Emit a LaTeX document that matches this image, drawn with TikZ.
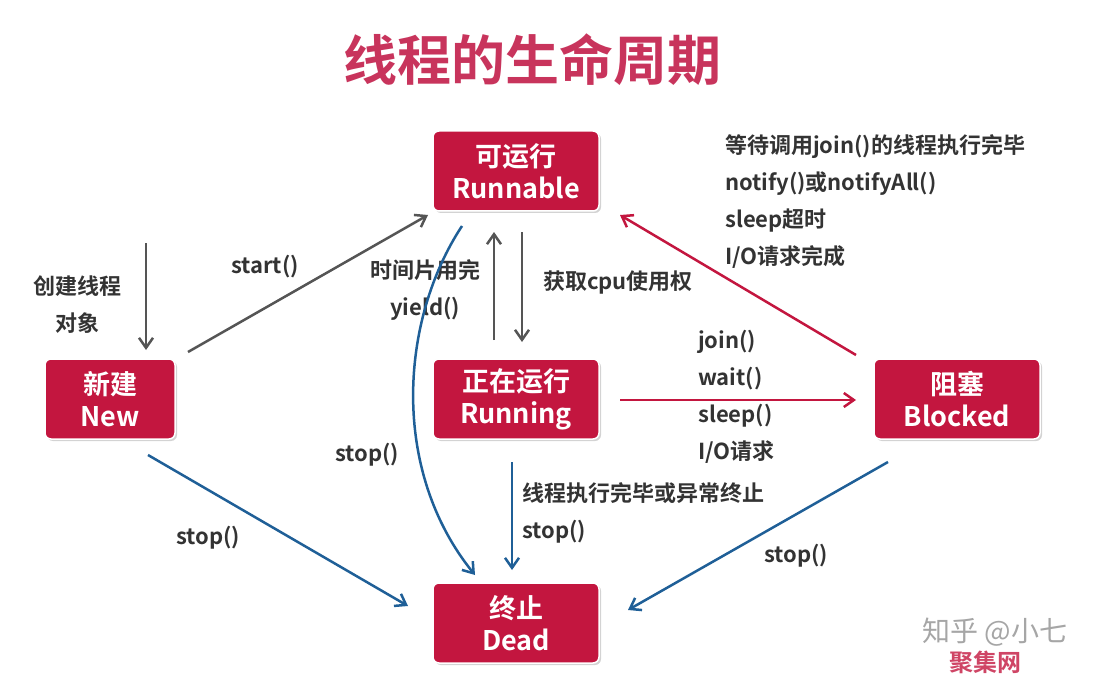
\documentclass[tikz,border=0pt]{standalone}
\usepackage{fontspec}
\setmainfont{Noto Sans CJK SC}[BoldFont={Noto Sans CJK SC Bold}]
\usetikzlibrary{arrows.meta,shadows}
\definecolor{rd}{HTML}{C3163F}
\definecolor{tt}{HTML}{C8345C}
\definecolor{bl}{HTML}{1F5F97}
\definecolor{gr}{HTML}{555555}
\definecolor{tx}{HTML}{333333}
\begin{document}
\begin{tikzpicture}[x=1pt,y=-1pt,
 box/.style={draw=white,line width=1.5pt,fill=rd,rounded corners=6pt,minimum width=166,minimum height=80,text=white,font=\fontsize{27}{32}\selectfont\bfseries,align=center,drop shadow={shadow xshift=2pt,shadow yshift=-2pt,opacity=0.35}},
 lbl/.style={text=tx,font=\fontsize{22}{37}\selectfont\bfseries,align=left,inner sep=0},
 ga/.style={draw=gr,line width=2.5pt,-{Straight Barb[length=10pt,width=14pt]}},
 ra/.style={ga,draw=rd},
 ba/.style={ga,draw=bl}]
\useasboundingbox (0,0) rectangle (1112,682);
\node[text=tt,font=\fontsize{54}{58}\selectfont\bfseries] (title) at (532,60) {线程的生命周期};
\node[box] (rn) at (516,171) {可运行\\Runnable};
\node[box,minimum width=130] (new) at (110,399) {新建\\New};
\node[box] (run) at (516,399) {正在运行\\Running};
\node[box] (blk) at (957,399) {阻塞\\Blocked};
\node[box] (dead) at (516,623) {终止\\Dead};
\coordinate (c0) at (146,243); \coordinate (c1) at (146,350);
\draw[ga] (c0) -- (c1);
\node[lbl,align=center] (l0) at (78,305) {创建线程\\对象};
\coordinate (s0) at (188,352); \coordinate (s1) at (428,215);
\draw[ga] (s0) -- (s1);
\node[lbl] (l1) at (265,267) {start()};
\coordinate (d0) at (522,232); \coordinate (d1) at (522,342);
\draw[ga] (d0) -- (d1);
\coordinate (u0) at (494,340); \coordinate (u1) at (494,232);
\draw[ga] (u0) -- (u1);
\node[lbl,align=center] (l2) at (425,290) {时间片用完\\yield()};
\node[lbl] (l3) at (618,282) {获取cpu使用权};
\coordinate (j0) at (620,400); \coordinate (j1) at (856,400);
\draw[ra] (j0) -- (j1);
\node[lbl,anchor=north west] (l4) at (698,330) {join()\\wait()\\sleep()\\I/O请求};
\coordinate (b0) at (856,355); \coordinate (b1) at (620,215);
\draw[ra] (b0) -- (b1);
\node[lbl,anchor=north west] (l5) at (725,134) {等待调用join()的线程执行完毕\\notify()或notifyAll()\\sleep超时\\I/O请求完成};
\coordinate (n0) at (148,455); \coordinate (n1) at (408,606);
\draw[ba] (n0) -- (n1);
\node[lbl] (l6) at (208,538) {stop()};
\coordinate (r0) at (462,226); \coordinate (r1) at (475,575);
\draw[ba] (r0) .. controls (400,320) and (390,470) .. (r1);
\node[lbl] (l7) at (367,455) {stop()};
\coordinate (g0) at (512,462); \coordinate (g1) at (512,570);
\draw[ba] (g0) -- (g1);
\node[lbl,anchor=north west] (l8) at (522,482) {线程执行完毕或异常终止\\stop()};
\coordinate (k0) at (888,462); \coordinate (k1) at (628,610);
\draw[ba] (k0) -- (k1);
\node[lbl] (l9) at (796,556) {stop()};
\node[text=gray!70,font=\fontsize{28}{30}\selectfont] (w1) at (995,632) {知乎 @小七};
\node[text=rd!80,font=\fontsize{24}{26}\selectfont\bfseries] (w2) at (985,662) {聚集网};
\end{tikzpicture}
\end{document}
